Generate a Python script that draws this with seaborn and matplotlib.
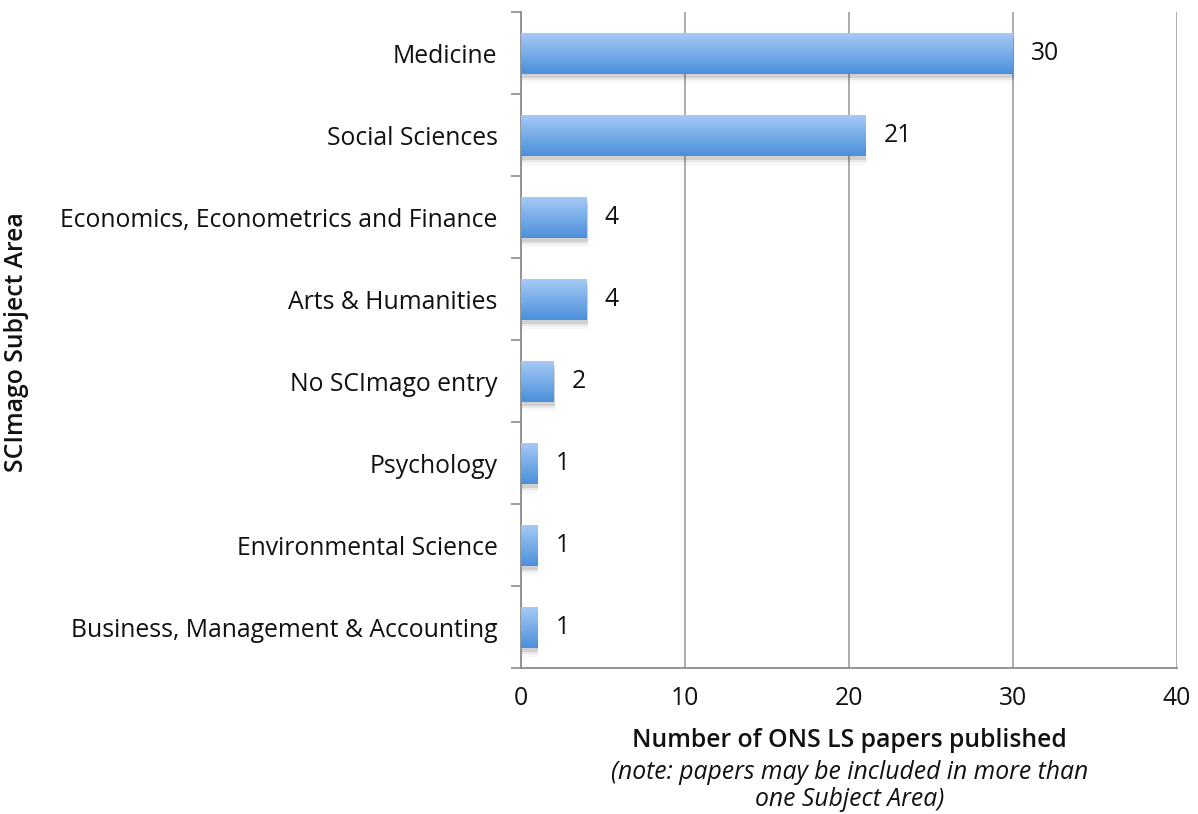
import matplotlib
matplotlib.use("Agg")
import matplotlib.pyplot as plt
import seaborn as sns
import numpy as np
import pandas as pd
from matplotlib.colors import LinearSegmentedColormap

categories = ["Medicine", "Social Sciences", "Economics, Econometrics and Finance",
              "Arts & Humanities", "No SCImago entry", "Psychology",
              "Environmental Science", "Business, Management & Accounting"]
values = [30, 21, 4, 4, 2, 1, 1, 1]
xticks = [0, 10, 20, 30, 40]

df = pd.DataFrame({"area": categories, "count": values})

sns.set_theme(style="white")
plt.rcParams['font.family'] = ['Open Sans', 'DejaVu Sans']
plt.rcParams['text.color'] = '#111111'
plt.rcParams['xtick.color'] = '#111111'
plt.rcParams['ytick.color'] = '#111111'
FS = 17.8

fig = plt.figure(figsize=(11.98, 8.14), dpi=100)
ax = fig.add_axes([0.435, 0.179, 0.5475, 0.806])

sns.barplot(data=df, y="area", x="count", color="#6aa6e8", width=0.5, ax=ax,
            orient="h", zorder=3)

ax.set_xlim(0, 40)
ax.set_ylim(len(categories) - 0.5, -0.5)
ax.set_xticks(xticks)
ax.set_xticklabels([str(t) for t in xticks], fontsize=FS)
ax.set_yticks(range(len(categories)))
ax.set_yticklabels(categories, fontsize=FS)
ax.tick_params(axis="y", length=0, pad=17, labelcolor="#111111")
ax.tick_params(axis="x", length=0, pad=13, labelcolor="#111111")

ax.set_yticks(np.arange(-0.5, len(categories) + 0.5, 1), minor=True)
ax.tick_params(axis="y", which="minor", length=7, width=1.2, color="#8c8c8c", direction="out", left=True)
ax.set_xticks(xticks, minor=True)
ax.tick_params(axis="x", which="minor", length=7, width=1.2, color="#8c8c8c", direction="out", bottom=True)

ax.grid(axis="x", color="#a6a6a6", linewidth=1.3, zorder=0)
ax.set_axisbelow(True)
for s in ["top", "right"]:
    ax.spines[s].set_visible(False)
for s in ["left", "bottom"]:
    ax.spines[s].set_color("#8c8c8c")
    ax.spines[s].set_linewidth(1.3)

cmap = LinearSegmentedColormap.from_list("g", ["#a8cbf7", "#4a8fd9"])
grad = np.linspace(0, 1, 256).reshape(-1, 1)
for p in list(ax.patches):
    x0, y0 = p.get_x(), p.get_y()
    w, h = p.get_width(), p.get_height()
    for k, a in enumerate([0.10, 0.06, 0.03]):
        ax.add_patch(plt.Rectangle((x0 + 0.05, y0 + 0.02 + 0.03 * (k + 1)), w, h,
                                   color="black", alpha=a, lw=0, zorder=2))
    p.set_edgecolor("none")
    im = ax.imshow(grad, cmap=cmap, aspect="auto", extent=(x0, x0 + w, y0 + h, y0),
                   zorder=4, interpolation="bicubic")
    im.set_clip_path(p)

ax.set_xlim(0, 40)
ax.set_ylim(len(categories) - 0.5, -0.5)

for i, v in enumerate(values):
    ax.text(v + 1.1, i, str(v), va="center", ha="left", fontsize=FS, color="#111111", zorder=5)

ax.set_ylabel("")
ax.set_xlabel("")
fig.text(0.014, 0.580, "SCImago Subject Area", rotation=90, ha="center", va="center",
         fontsize=FS, fontweight="semibold")
fig.text(0.709, 0.0897, "Number of ONS LS papers published", ha="center", va="center",
         fontsize=FS, fontweight="semibold")
fig.text(0.709, 0.0504, "(note: papers may be included in more than", ha="center", va="center",
         fontsize=FS, fontstyle="italic")
fig.text(0.709, 0.0172, "one Subject Area)", ha="center", va="center",
         fontsize=FS, fontstyle="italic")

fig.savefig("out.png", dpi=100)
